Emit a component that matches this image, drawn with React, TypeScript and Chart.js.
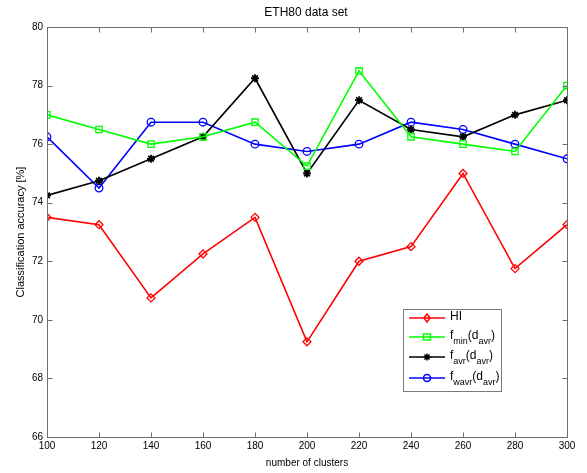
import { useEffect, useRef } from "react";
import { Chart, registerables } from "chart.js";

Chart.register(...registerables);

const clusters = [100, 120, 140, 160, 180, 200, 220, 240, 260, 280, 300];
const hiValues = [73.5, 73.25, 70.75, 72.25, 73.5, 69.25, 72.0, 72.5, 75.0, 71.75, 73.25];
const fminValues = [77.0, 76.5, 76.0, 76.25, 76.75, 75.25, 78.5, 76.25, 76.0, 75.75, 78.0];
const favrValues = [74.25, 74.75, 75.5, 76.25, 78.25, 75.0, 77.5, 76.5, 76.25, 77.0, 77.5];
const fwavrValues = [76.25, 74.5, 76.75, 76.75, 76.0, 75.75, 76.0, 76.75, 76.5, 76.0, 75.5];
const xTicks = [100, 120, 140, 160, 180, 200, 220, 240, 260, 280, 300];
const yTicks = [66, 68, 70, 72, 74, 76, 78, 80];

const FONT = "Liberation Sans, Arial, Helvetica, sans-serif";

type LegendItem = { color: string; marker: string; base: string; parts: [string, string][] };
const legendItems: LegendItem[] = [
  { color: "#ff0000", marker: "diamond", base: "HI", parts: [] },
  { color: "#00ff00", marker: "square", base: "f", parts: [["min", "sub"], ["(d", "n"], ["avr", "sub"], [")", "n"]] },
  { color: "#000000", marker: "star", base: "f", parts: [["avr", "sub"], ["(d", "n"], ["avr", "sub"], [")", "n"]] },
  { color: "#0000ff", marker: "circle", base: "f", parts: [["wavr", "sub"], ["(d", "n"], ["avr", "sub"], [")", "n"]] },
];

function drawMarker(ctx: CanvasRenderingContext2D, kind: string, x: number, y: number, color: string) {
  ctx.save();
  ctx.strokeStyle = color;
  ctx.fillStyle = color;
  ctx.lineWidth = 1.5;
  ctx.beginPath();
  if (kind === "diamond") {
    ctx.moveTo(x, y - 4);
    ctx.lineTo(x + 3, y);
    ctx.lineTo(x, y + 4);
    ctx.lineTo(x - 3, y);
    ctx.closePath();
    ctx.stroke();
  } else if (kind === "square") {
    ctx.rect(x - 3.5, y - 3, 7, 6);
    ctx.stroke();
  } else if (kind === "circle") {
    ctx.arc(x, y, 3.5, 0, Math.PI * 2);
    ctx.stroke();
  } else {
    const r = 3.5;
    ctx.moveTo(x - r, y); ctx.lineTo(x + r, y);
    ctx.moveTo(x, y - r); ctx.lineTo(x, y + r);
    const d = r * 0.72;
    ctx.moveTo(x - d, y - d); ctx.lineTo(x + d, y + d);
    ctx.moveTo(x - d, y + d); ctx.lineTo(x + d, y - d);
    ctx.stroke();
  }
  ctx.restore();
}

const framePlugin = {
  id: "matlabFrame",
  afterDraw(chart: any) {
    const ctx: CanvasRenderingContext2D = chart.ctx;
    const { left, top, right, bottom } = chart.chartArea;
    const xs = chart.scales.x;
    const ys = chart.scales.y;
    ctx.save();
    ctx.strokeStyle = "#6e6e6e";
    ctx.lineWidth = 1;
    const L = Math.round(left) + 0.5, R = Math.round(right) + 0.5;
    const T = Math.round(top) + 0.5, B = Math.round(bottom) + 0.5;
    ctx.strokeRect(L, T, R - L, B - T);
    ctx.beginPath();
    for (const v of xTicks) {
      const px = Math.round(xs.getPixelForValue(v)) + 0.5;
      ctx.moveTo(px, B); ctx.lineTo(px, B - 5);
      ctx.moveTo(px, T); ctx.lineTo(px, T + 5);
    }
    for (const v of yTicks) {
      const py = Math.round(ys.getPixelForValue(v)) + 0.5;
      ctx.moveTo(L, py); ctx.lineTo(L + 5, py);
      ctx.moveTo(R, py); ctx.lineTo(R - 5, py);
    }
    ctx.stroke();

    // title
    ctx.fillStyle = "#000";
    ctx.font = `12px ${FONT}`;
    ctx.textAlign = "center";
    ctx.textBaseline = "middle";
    ctx.fillText("ETH80 data set", (left + right) / 2 - 1, 13);

    // legend
    const bx = 403, by = 309, bw = 98, bh = 82;
    ctx.fillStyle = "#fff";
    ctx.fillRect(bx, by, bw, bh);
    ctx.strokeStyle = "#7a7a7a";
    ctx.strokeRect(bx + 0.5, by + 0.5, bw, bh);
    const rowsY = [318, 337, 357, 378];
    legendItems.forEach((it, i) => {
      const y = rowsY[i];
      ctx.strokeStyle = it.color;
      ctx.lineWidth = 1.5;
      ctx.beginPath();
      ctx.moveTo(409, y);
      ctx.lineTo(445, y);
      ctx.stroke();
      drawMarker(ctx, it.marker, 427, y, it.color);
      ctx.fillStyle = "#000";
      ctx.textAlign = "left";
      ctx.textBaseline = "middle";
      ctx.font = `12px ${FONT}`;
      let x = 450;
      ctx.fillText(it.base, x, y - 1);
      x += ctx.measureText(it.base).width;
      for (const [txt, kind] of it.parts) {
        if (kind === "sub") {
          ctx.font = `9px ${FONT}`;
          ctx.fillText(txt, x, y + 5);
          x += ctx.measureText(txt).width;
        } else {
          ctx.font = `12px ${FONT}`;
          ctx.fillText(txt, x, y - 1);
          x += ctx.measureText(txt).width;
        }
      }
    });
    ctx.restore();
  },
};

function series(values: number[]) {
  return values.map((v, i) => ({ x: clusters[i], y: v }));
}

export default function App() {
  const ref = useRef<HTMLCanvasElement>(null);
  useEffect(() => {
    if (!ref.current) return;
    const common = { borderWidth: 1.6, pointRadius: 4, pointBorderWidth: 1.3, pointBackgroundColor: "rgba(0,0,0,0)", tension: 0 };
    const chart = new Chart(ref.current, {
      type: "line",
      data: {
        datasets: [
          { label: "HI", data: series(hiValues), borderColor: "#ff0000", pointBorderColor: "#ff0000", pointStyle: "rectRot", ...common },
          { label: "fmin(davr)", data: series(fminValues), borderColor: "#00ff00", pointBorderColor: "#00ff00", pointStyle: "rect", ...common, pointRadius: 4.5 },
          { label: "favr(davr)", data: series(favrValues), borderColor: "#000000", pointBorderColor: "#000000", pointStyle: "star", ...common, pointBorderWidth: 1.8 },
          { label: "fwavr(davr)", data: series(fwavrValues), borderColor: "#0000ff", pointBorderColor: "#0000ff", pointStyle: "circle", ...common, pointRadius: 3.8 },
        ],
      } as any,
      options: {
        responsive: false,
        animation: false,
        devicePixelRatio: 1,
        layout: { padding: { top: 27, right: 20, left: 0, bottom: 0 } },
        plugins: { legend: { display: false }, tooltip: { enabled: false }, title: { display: false } },
        scales: {
          x: {
            type: "linear",
            min: 100,
            max: 300,
            afterFit: (s: any) => { s.height = 36; },
            afterBuildTicks: (s: any) => { s.ticks = xTicks.map((v) => ({ value: v })); },
            grid: { display: false, drawTicks: false },
            border: { display: false },
            ticks: { color: "#000", font: { family: FONT, size: 10 }, padding: 3, maxRotation: 0, autoSkip: false },
            title: { display: true, text: "number of clusters", color: "#000", font: { family: FONT, size: 10 }, padding: { top: 0, bottom: 4 } },
          },
          y: {
            type: "linear",
            min: 66,
            max: 80,
            afterFit: (s: any) => { s.width = 47; },
            afterBuildTicks: (s: any) => { s.ticks = yTicks.map((v) => ({ value: v })); },
            grid: { display: false, drawTicks: false },
            border: { display: false },
            ticks: { color: "#000", font: { family: FONT, size: 10 }, padding: 4, autoSkip: false },
            title: { display: true, text: "Classification accuracy [%]", color: "#000", font: { family: FONT, size: 11 }, padding: { top: 14, bottom: 0 } },
          },
        },
      } as any,
      plugins: [framePlugin],
    });
    return () => chart.destroy();
  }, []);
  return (
    <div style={{ position: "absolute", left: 0, top: 0, width: 587, height: 473, background: "#fff" }}>
      <canvas ref={ref} width={587} height={473} style={{ display: "block" }} />
    </div>
  );
}
